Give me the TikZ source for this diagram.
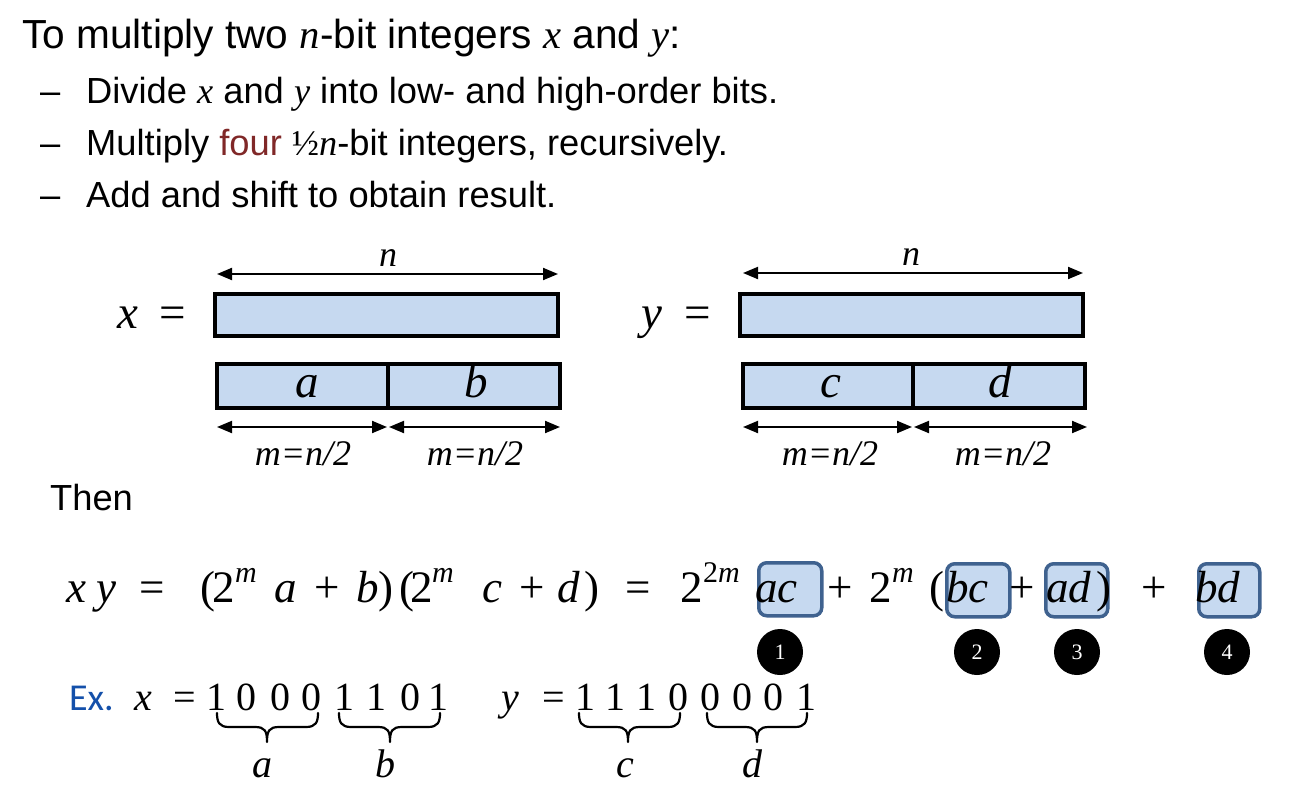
\documentclass[tikz,border=0pt]{standalone}
\usepackage{fontspec}
\usepackage{graphicx}
\setmainfont{Liberation Sans}
\newfontfamily\tnr{Liberation Serif}
\newfontfamily\carl{Carlito}
\usetikzlibrary{arrows.meta,calc}
\definecolor{barfill}{RGB}{198,217,240}
\definecolor{boxedge}{RGB}{63,98,143}
\definecolor{fourred}{RGB}{128,40,40}
\definecolor{exblue}{RGB}{20,80,170}
\newcommand\mi[1]{{\tnr\itshape #1}}
% curly brace under a group, from named left/right/mid coordinates
\newcommand\curlyb[3]{%
  \draw[brcl] (#1) .. controls ($(#1)+(0,9)$) and ($(#1)+(2,14)$) .. ($(#1)+(12,14)$)
    -- ($(#3)+(-12,14)$) .. controls ($(#3)+(-2,14)$) and ($(#3)+(0,18)$) .. ($(#3)+(0,29)$)
    .. controls ($(#3)+(0,18)$) and ($(#3)+(2,14)$) .. ($(#3)+(12,14)$)
    -- ($(#2)+(-12,14)$) .. controls ($(#2)+(-2,14)$) and ($(#2)+(0,9)$) .. (#2);}
\begin{document}
\begin{tikzpicture}[x=1pt,y=-1pt,
  txt/.style={anchor=base west, inner sep=0pt},
  titlef/.style={txt, font=\fontsize{40.6}{48}\selectfont},
  bul/.style={txt, font=\fontsize{36.3}{43}\selectfont},
  bar/.style={draw=black, line width=4pt, fill=barfill, inner sep=0pt, outer sep=0pt, anchor=north west},
  dimline/.style={line width=2pt, {Triangle[length=15pt,width=12pt]}-{Triangle[length=15pt,width=12pt]}},
  lab/.style={anchor=base, inner sep=0pt, font=\tnr\itshape\fontsize{36}{40}\selectfont},
  big/.style={anchor=base west, inner sep=0pt, font=\tnr\itshape\fontsize{47}{50}\selectfont},
  eq/.style={anchor=base west, inner sep=0pt, font=\tnr\fontsize{45}{50}\selectfont},
  eqi/.style={eq, font=\tnr\itshape\fontsize{45}{50}\selectfont},
  sup/.style={anchor=base west, inner sep=0pt, font=\tnr\itshape\fontsize{30}{32}\selectfont},
  rbox/.style={draw=boxedge, line width=3.5pt, fill=barfill, rounded corners=8pt, inner sep=0pt, anchor=north west},
  num/.style={circle, fill=black, minimum size=46pt, inner sep=0pt, text=white, font=\tnr\fontsize{22}{24}\selectfont},
  dig/.style={anchor=base, inner sep=0pt, font=\tnr\fontsize{40}{46}\selectfont},
  brcl/.style={line width=2.2pt, line cap=round, line join=round},
  exl/.style={anchor=base, inner sep=0pt, font=\tnr\itshape\fontsize{40}{46}\selectfont}
]
\useasboundingbox[fill=white] (0,0) rectangle (1294,801);

% ---- heading and bullets
\node[titlef] (title) at (22,48) {To multiply two \mi{n}-bit integers \mi{x} and \mi{y}:};
\node[bul] (d1) at (40,103) {–};
\node[bul] (t1) at (86,103) {Divide \mi{x} and \mi{y} into low- and high-order bits.};
\node[bul] (d2) at (40,155) {–};
\node[bul] (t2) at (86,155) {Multiply \textcolor{fourred}{four} {\tnr ½}\mi{n}-bit integers, recursively.};
\node[bul] (d3) at (40,207) {–};
\node[bul] (t3) at (86,207) {Add and shift to obtain result.};

% ---- x bars
\node[big] (xlab) at (117,328) {x};
\node[big, font=\tnr\fontsize{47}{50}\selectfont] (xeq) at (159,328) {=};
\node[bar, minimum width=343pt, minimum height=42pt] (xbar) at (215,294) {};
\node[bar, minimum width=171pt, minimum height=44pt] (abar) at (217,364) {};
\node[bar, minimum width=172pt, minimum height=44pt] (bbar) at (388,364) {};
\node[big, anchor=base] (alab) at (307,397) {a};
\node[big, anchor=base] (blab) at (476,397) {b};
\coordinate (xnL) at (217,274); \coordinate (xnR) at (558,274);
\draw[dimline] (xnL) -- (xnR);
\node[lab] (xn) at (388,266) {n};
\coordinate (xaL) at (217,427); \coordinate (xaR) at (387,427);
\coordinate (xbL) at (389,427); \coordinate (xbR) at (560,427);
\draw[dimline] (xaL) -- (xaR);
\draw[dimline] (xbL) -- (xbR);
\node[lab] (xm1) at (303,465) {m=n/2};
\node[lab] (xm2) at (475,465) {m=n/2};

% ---- y bars
\node[big] (ylab) at (641,328) {y};
\node[big, font=\tnr\fontsize{47}{50}\selectfont] (yeq) at (684,328) {=};
\node[bar, minimum width=343pt, minimum height=42pt] (ybar) at (740,294) {};
\node[bar, minimum width=170pt, minimum height=44pt] (cbar) at (743,364) {};
\node[bar, minimum width=172pt, minimum height=44pt] (dbar) at (913,364) {};
\node[big, anchor=base] (clab) at (831,397) {c};
\node[big, anchor=base] (dlab) at (1000,397) {d};
\coordinate (ynL) at (743,273); \coordinate (ynR) at (1083,273);
\draw[dimline] (ynL) -- (ynR);
\node[lab] (yn) at (911,265) {n};
\coordinate (ycL) at (743,427); \coordinate (ycR) at (912,427);
\coordinate (ydL) at (914,427); \coordinate (ydR) at (1087,427);
\draw[dimline] (ycL) -- (ycR);
\draw[dimline] (ydL) -- (ydR);
\node[lab] (ym1) at (830,465) {m=n/2};
\node[lab] (ym2) at (1003,465) {m=n/2};

% ---- Then
\node[bul] (then) at (50,510) {Then};

% ---- equation: highlight boxes first
\node[rbox, minimum width=63pt, minimum height=53pt] (bac) at (757,561) {};
\node[rbox, minimum width=63pt, minimum height=53pt] (bbc) at (945,562) {};
\node[rbox, minimum width=62pt, minimum height=53pt] (bad) at (1044,562) {};
\node[rbox, minimum width=61pt, minimum height=53pt] (bbd) at (1197,562) {};

\node[eqi] (e1) at (66,602) {x};
\node[eqi] (e2) at (96,602) {y};
\node[eq]  (e3) at (139,602) {=};
\node[eq]  (e4a) at (200,602) {(};
\node[eq]  (e4) at (212,602) {2};
\node[sup] (e5) at (235,582) {m};
\node[eqi] (e6) at (274,602) {a};
\node[eq]  (e7) at (314,602) {+};
\node[eqi] (e8) at (356,602) {b};
\node[eq]  (e9) at (378,602) {)};
\node[eq]  (e10a) at (399,602) {(};
\node[eq]  (e10) at (410,602) {2};
\node[sup] (e11) at (432,582) {m};
\node[eqi] (e12) at (482,602) {c};
\node[eq]  (e13) at (519,602) {+};
\node[eqi] (e14) at (557,602) {d};
\node[eq]  (e15) at (584,602) {)};
\node[eq]  (e16) at (625,602) {=};
\node[eq]  (e17) at (680,602) {2};
\node[sup] (e18) at (703,582) {{\upshape 2}m};
\node[eqi] (e19) at (755,602) {ac};
\node[eq]  (e20) at (827,602) {+};
\node[eq]  (e21) at (869,602) {2};
\node[sup] (e22) at (892,582) {m};
\node[eq]  (e23) at (929,602) {(};
\node[eqi] (e24) at (946,602) {bc};
\node[eq]  (e25) at (1009,602) {+};
\node[eqi] (e26) at (1046,602) {ad};
\node[eq]  (e27) at (1096,602) {)};
\node[eq]  (e28) at (1141,602) {+};
\node[eqi] (e29) at (1195,602) {bd};

\node[num] (n1) at (780,652) {1};
\node[num] (n2) at (977,652) {2};
\node[num] (n3) at (1077,652) {3};
\node[num] (n4) at (1227,652) {4};

% ---- example
\node[txt, font=\carl\fontsize{38}{44}\selectfont, text=exblue] (ex) at (69,710) {Ex.};
\node[txt, font=\tnr\itshape\fontsize{40}{46}\selectfont] (exx) at (134,710) {x};
\node[txt, font=\tnr\fontsize{40}{46}\selectfont] (exxeq) at (173,710) {=};
\node[dig] (x1) at (216,710) {1};
\node[dig] (x2) at (246.5,710) {0};
\node[dig] (x3) at (280,710) {0};
\node[dig] (x4) at (311.5,710) {0};
\node[dig] (x5) at (344,710) {1};
\node[dig] (x6) at (376,710) {1};
\node[dig] (x7) at (410,710) {0};
\node[dig] (x8) at (438,710) {1};
\node[txt, font=\tnr\itshape\fontsize{40}{46}\selectfont] (exy) at (501,710) {y};
\node[txt, font=\tnr\fontsize{40}{46}\selectfont] (exyeq) at (542,710) {=};
\node[dig] (y1) at (585,710) {1};
\node[dig] (y2) at (615,710) {1};
\node[dig] (y3) at (646,710) {1};
\node[dig] (y4) at (678.5,710) {0};
\node[dig] (y5) at (710,710) {0};
\node[dig] (y6) at (742.5,710) {0};
\node[dig] (y7) at (773.5,710) {0};
\node[dig] (y8) at (806.5,710) {1};

\coordinate (baL) at (217,713); \coordinate (baR) at (318,713); \coordinate (baM) at (267,713);
\coordinate (bbL) at (339,713); \coordinate (bbR) at (440,713); \coordinate (bbM) at (390,713);
\coordinate (bcL) at (579,713); \coordinate (bcR) at (680,713); \coordinate (bcM) at (628,713);
\coordinate (bdL) at (707,713); \coordinate (bdR) at (807,713); \coordinate (bdM) at (757,713);
\curlyb{baL}{baR}{baM}
\curlyb{bbL}{bbR}{bbM}
\curlyb{bcL}{bcR}{bcM}
\curlyb{bdL}{bdR}{bdM}
\node[exl] (la) at (262,777) {a};
\node[exl] (lb) at (385,777) {b};
\node[exl] (lc) at (625,777) {c};
\node[exl] (ld) at (752,777) {d};
\end{tikzpicture}
\end{document}
